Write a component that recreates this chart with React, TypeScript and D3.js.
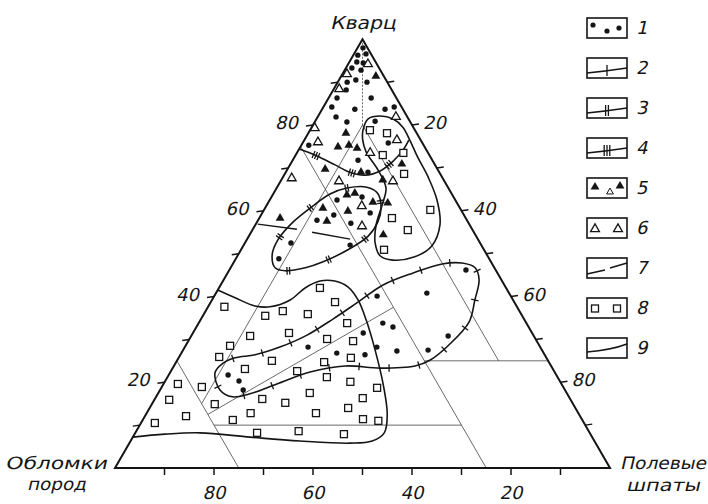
import React, { useEffect, useRef } from "react";
import * as d3 from "d3";

type TP = [number, number]; // [Q (кварц) %, F (полевые шпаты) %], R = 100 - Q - F

const tickValues = [10, 20, 30, 40, 50, 60, 70, 80, 90];
const leftLabels = [80, 60, 40, 20];
const rightLabels = [20, 40, 60, 80];
const baseLabels = [80, 60, 40, 20];
const legendLabels = ["1", "2", "3", "4", "5", "6", "7", "8", "9"];

const circlePts: TP[] = [
  [98, 1.1], [96.3, 0.9], [96.6, 2.4], [94.7, 1.5], [94.5, 2.9], [93.3, 1.2], [92.8, 3.3], [90, 1.9], [90.5, 3.4], [90, 5.9],
  [88.2, 2.6], [86.3, 1.7], [86.3, 8.6], [84.2, 1.7], [83.7, 6.6], [83.7, 12.7], [84.2, 14.3], [81.9, 3.7], [80.7, 6.5], [80.9, 12.1],
  [75.3, 1.5], [75.8, 17.3], [71.8, 13.2], [69, 16.6], [62.5, 13.6], [63.2, 18.3], [59.5, 21.8], [57.8, 11.9], [59, 14.7], [57.1, 19.1],
  [52.5, 9.3], [48.8, 8.7], [52, 21.5], [40.1, 32.9], [40.8, 42.6], [31.5, 34.4], [33.8, 37.2], [32.9, 39.7], [28.2, 24.9], [26.8, 31.4],
  [26.4, 37.3], [28.2, 38.8], [27.3, 43.3], [27.5, 49.5], [30.8, 51.9], [46.2, 47.8], [21.7, 12], [20.3, 14.9], [18.2, 16.8],
];

const filledTriPts: TP[] = [
  [91.4, 7], [78.1, 7.6], [74.9, 7.6], [75.3, 9.6], [74.6, 11.6], [69.7, 7.6], [69, 15.2], [70.9, 22.5], [67.2, 20.5],
  [63.7, 15], [64.1, 16.4], [62, 21.1], [61.8, 24.2], [60.6, 11.7], [59.9, 17.1], [57.6, 14], [58.3, 4.2], [54.4, 27],
];

const openTriPts: TP[] = [
  [94.2, 4], [91.9, 0.9], [88.4, 1.1], [79.3, 0.7], [76, 3], [81.9, 15.8], [76.5, 18.7], [73.5, 14.8], [67.6, 1.9],
  [66.9, 11.8], [66.9, 22.7], [61.1, 19.3], [56.4, 21.7],
];

const squarePts: TP[] = [
  [78.8, 12.1], [78.1, 15.9], [73, 17.6], [73.5, 21.5], [68.6, 24.1], [60.2, 33.6], [58.3, 26.8], [55.5, 31.4], [50.9, 28.9],
  [42, 20.4], [38.7, 25.1], [37.6, 3.3], [35.5, 12.6], [36.6, 15.6], [35.9, 21], [33.8, 30], [30.8, 11.9], [31.5, 19.4],
  [30.1, 27.8], [29.6, 33.3], [28.5, 9], [25.9, 8.1], [25, 19.2], [23.1, 14.7], [22.6, 25.5], [24.7, 29.9], [25.7, 34.8],
  [21.2, 32.2], [20.1, 37.5], [19.6, 2.9], [18.9, 8.1], [17.5, 30.6], [18.7, 43.6], [15.9, 3], [14.9, 12.7], [16.1, 21.7],
  [15.2, 26.8], [16.3, 41.9], [12.1, 8.3], [12.8, 21], [12.8, 34.2], [14, 40.1], [11.2, 18.2], [11.4, 44.4], [11, 47.7],
  [10.5, 2.8], [8.2, 24.6], [8.6, 32.8], [7.9, 42.3],
];

// classification lines (thin)
const classLines: TP[][] = [
  [[80, 10], [15, 10]],
  [[80, 10], [25, 65]],
  [[75, 0], [0, 75]],
  [[25, 0], [0, 25]],
  [[25, 50], [25, 75]],
  [[10, 15], [10, 65]],
  [[12.5, 12.5], [37.5, 37.5]],
];
const apexLine: TP[] = [[100, 0], [80, 10]];

// contours
const regionA: TP[] = [
  [41.5, 0], [39.7, 4.4], [37.8, 9.4], [37.6, 12.5], [39.2, 15.8], [42, 17.4], [43.6, 19.6], [43.6, 22.6], [42.2, 26],
  [39.2, 29.5], [34.5, 33.5], [27.5, 38.8], [19.4, 44.5], [12.4, 48.8], [8.2, 50.3], [6.3, 48.8], [5.8, 44.6],
  [6.3, 34.2], [7.2, 23.7], [8.2, 13.1], [7.9, 6.1], [7.2, 0],
];
const regionB: TP[] = [
  [22.2, 9.1], [24.3, 9.5], [25.7, 11.4], [26.4, 15.1], [28.2, 19.2], [31, 23.3], [34.8, 26.7], [38.5, 29.6], [42.7, 32.8],
  [45.5, 37.5], [47.6, 42.3], [47.8, 46.2], [46.7, 49.4], [43.9, 51.6], [39.2, 53.1], [34.1, 54.5], [28.7, 53.1],
  [25.2, 51.1], [23.8, 48.7], [23.3, 41.9], [23.8, 34.6], [22.4, 28.2], [19.6, 22.9], [17.3, 18.6], [16.6, 15.4], [18.2, 12.1],
];
const regionC: TP[] = [
  [46.7, 9], [49.7, 6.9], [53.2, 6.3], [57.4, 7.3], [61.1, 9.4], [63.9, 11.5], [65.3, 14.2], [65.5, 18.1], [64.1, 21],
  [60.9, 23.3], [57.4, 24.4], [54.1, 24.1], [50.9, 21.6], [48.1, 18], [46.7, 15.1], [46, 11.4],
];
const regionE: TP[] = [
  [74.4, 0], [72.8, 4.4], [70.7, 9.1], [69, 12.9], [68.3, 16.3], [69.3, 18.9], [71.6, 20.4], [74.2, 21.1], [76.5, 21.1],
];
const loopF: TP[] = [
  [78.8, 10.7], [81.4, 10.4], [82.1, 12.5], [81.4, 15.5], [79.5, 18.4], [76.5, 21.3], [72.5, 24.9], [67.9, 29.3],
  [62.5, 33.8], [56.7, 37.3], [51.8, 38.1], [49.2, 35.8], [48.5, 31.9], [49.5, 28.8], [52.5, 26.3], [56.7, 24.4],
  [61.3, 23.3], [65.3, 22.1], [69.5, 18.4], [73.7, 13.9], [76.5, 11.8],
];
const dashed7: TP[][] = [
  [[56.9, 0.4], [55.7, 8.9]],
  [[55, 12.3], [53.4, 20.8]],
];

const INK = "#151515";
const FONT = "'DejaVu Sans', sans-serif";

export default function App() {
  const ref = useRef<SVGSVGElement>(null);

  useEffect(() => {
    const svg = d3.select(ref.current as SVGSVGElement);
    svg.selectAll("*").remove();
    const xs = d3.scaleLinear().domain([0, 100]).range([115, 610]);
    const ys = d3.scaleLinear().domain([0, 100]).range([468, 39.3]);
    const P = (d: TP): [number, number] => [xs(d[1] + d[0] / 2), ys(d[0])];

    svg.append("rect").attr("width", 708).attr("height", 504).attr("fill", "#fff");
    const g = svg.append("g");

    // thin classification lines
    const lineGen = d3.line<TP>().x((d) => P(d)[0]).y((d) => P(d)[1]);
    g.selectAll(".cl").data(classLines).enter().append("path")
      .attr("d", (d) => lineGen(d) as string)
      .attr("fill", "none").attr("stroke", "#444").attr("stroke-width", 0.8);
    g.append("path").attr("d", lineGen(apexLine) as string)
      .attr("fill", "none").attr("stroke", "#444").attr("stroke-width", 0.8).attr("stroke-dasharray", "2,1.5");

    // triangle frame
    const frame: TP[] = [[100, 0], [0, 100], [0, 0]];
    g.append("path").attr("d", (lineGen(frame) as string) + "Z")
      .attr("fill", "none").attr("stroke", INK).attr("stroke-width", 2).attr("stroke-linejoin", "miter");

    // side ticks
    tickValues.forEach((v) => {
      const [lx, ly] = P([v, 0]);
      g.append("line").attr("x1", lx).attr("y1", ly).attr("x2", lx - 7).attr("y2", ly + 1)
        .attr("stroke", INK).attr("stroke-width", 1.5);
      const [rx, ry] = P([100 - v, v]);
      g.append("line").attr("x1", rx).attr("y1", ry).attr("x2", rx + 7).attr("y2", ry - 1)
        .attr("stroke", INK).attr("stroke-width", 1.5);
      const [bx, by] = P([0, 100 - v]);
      g.append("line").attr("x1", bx).attr("y1", by).attr("x2", bx).attr("y2", by + 7)
        .attr("stroke", INK).attr("stroke-width", 1.5);
    });

    const txt = (x: number, y: number, s: string, anchor = "start", size = 17, len?: number) => {
      const t = g.append("g").attr("transform", `translate(${x},${y}) skewX(-13)`)
        .append("text").attr("x", 0).attr("y", 0).attr("text-anchor", anchor)
        .attr("font-family", FONT).attr("font-size", size)
        .attr("fill", INK).text(s);
      if (len) t.attr("textLength", len).attr("lengthAdjust", "spacingAndGlyphs");
      return t;
    };

    leftLabels.forEach((v) => { const [x, y] = P([v, 0]); txt(x - 15, y + 4, String(v), "end", 18); });
    rightLabels.forEach((v) => { const [x, y] = P([100 - v, v]); txt(x + 11, y + 4, String(v), "start", 18); });
    baseLabels.forEach((v) => { const [x, y] = P([0, 100 - v]); txt(x, y + 31, String(v), "middle", 18); });

    txt(330, 29, "Кварц", "start", 18, 66);
    txt(5, 469, "Обломки", "start", 17, 102);
    txt(27, 490, "пород", "start", 17, 59);
    txt(620, 469, "Полевые", "start", 17, 86);
    txt(626, 491, "шпаты", "start", 17, 74);

    // contours
    const openCurve = d3.line<TP>().x((d) => P(d)[0]).y((d) => P(d)[1]).curve(d3.curveCatmullRom.alpha(0.5));
    const closedCurve = d3.line<TP>().x((d) => P(d)[0]).y((d) => P(d)[1]).curve(d3.curveCatmullRomClosed.alpha(0.5));

    const addContour = (d: string) =>
      g.append("path").attr("d", d).attr("fill", "none").attr("stroke", INK).attr("stroke-width", 1.6);

    const addTicks = (node: SVGPathElement, n: number, spacing: number, start: number) => {
      const L = node.getTotalLength();
      for (let s = start; s < L - 4; s += spacing) {
        const p = node.getPointAtLength(s);
        const a = node.getPointAtLength(Math.max(0, s - 1.5));
        const b = node.getPointAtLength(Math.min(L, s + 1.5));
        let tx = b.x - a.x, ty = b.y - a.y;
        const m = Math.hypot(tx, ty) || 1; tx /= m; ty /= m;
        const nx = -ty, ny = tx;
        for (let k = 0; k < n; k++) {
          const off = (k - (n - 1) / 2) * 2.6;
          const cx = p.x + tx * off, cy = p.y + ty * off;
          g.append("line").attr("x1", cx - nx * 3.8).attr("y1", cy - ny * 3.8)
            .attr("x2", cx + nx * 3.8).attr("y2", cy + ny * 3.8)
            .attr("stroke", INK).attr("stroke-width", 1.3);
        }
      }
    };

    addContour(openCurve(regionA) as string);
    const pB = addContour(closedCurve(regionB) as string);
    addTicks(pB.node() as SVGPathElement, 1, 30, 12);
    const pC = addContour(closedCurve(regionC) as string);
    addTicks(pC.node() as SVGPathElement, 2, 42, 20);
    addContour(closedCurve(loopF) as string);
    const pE = addContour(openCurve(regionE) as string);
    addTicks(pE.node() as SVGPathElement, 3, 40, 18);
    dashed7.forEach((seg) => addContour(lineGen(seg) as string).attr("stroke-width", 1.4));

    // markers
    g.selectAll(".c").data(circlePts).enter().append("circle")
      .attr("cx", (d) => P(d)[0]).attr("cy", (d) => P(d)[1]).attr("r", 2.7).attr("fill", INK);
    const tri = d3.symbol().type(d3.symbolTriangle).size(34);
    g.selectAll(".ft").data(filledTriPts).enter().append("path")
      .attr("d", tri() as string).attr("transform", (d) => `translate(${P(d)[0]},${P(d)[1]})`).attr("fill", INK);
    g.selectAll(".ot").data(openTriPts).enter().append("path")
      .attr("d", tri() as string).attr("transform", (d) => `translate(${P(d)[0]},${P(d)[1]})`)
      .attr("fill", "#fff").attr("stroke", INK).attr("stroke-width", 1.3);
    g.selectAll(".sq").data(squarePts).enter().append("rect")
      .attr("x", (d) => P(d)[0] - 3.5).attr("y", (d) => P(d)[1] - 3.5).attr("width", 7).attr("height", 7)
      .attr("fill", "#fff").attr("stroke", INK).attr("stroke-width", 1.3);

    // legend
    const lg = svg.append("g");
    legendLabels.forEach((lab, i) => {
      const y = 18 + i * 40;
      const x = 587;
      lg.append("rect").attr("x", x).attr("y", y).attr("width", 40).attr("height", 20)
        .attr("fill", "#fff").attr("stroke", INK).attr("stroke-width", 1.6);
      lg.append("g").attr("transform", `translate(636,${y + 16}) skewX(-13)`)
        .append("text").attr("font-family", FONT)
        .attr("font-size", 18).attr("fill", INK).text(lab);
      if (i === 0) {
        [[593, 7], [607, 13], [619, 10]].forEach(([cx, dy]) =>
          lg.append("circle").attr("cx", cx).attr("cy", y + dy).attr("r", 2.6).attr("fill", INK));
      } else if (i >= 1 && i <= 3) {
        lg.append("path").attr("d", `M${x},${y + 15} Q${x + 20},${y + 13} ${x + 40},${y + 10}`)
          .attr("fill", "none").attr("stroke", INK).attr("stroke-width", 1.5);
        for (let k = 0; k < i; k++) {
          const tx = 607 + (k - (i - 1) / 2) * 2.8;
          lg.append("line").attr("x1", tx).attr("y1", y + 7).attr("x2", tx).attr("y2", y + 18)
            .attr("stroke", INK).attr("stroke-width", 1.3);
        }
      } else if (i === 4) {
        [[595, 9, 34], [610, 14, 20], [620, 8, 34]].forEach(([cx, dy, sz]) =>
          lg.append("path").attr("d", d3.symbol().type(d3.symbolTriangle).size(sz)() as string)
            .attr("transform", `translate(${cx},${y + dy})`)
            .attr("fill", sz === 20 ? "#fff" : INK).attr("stroke", INK).attr("stroke-width", sz === 20 ? 1 : 0));
      } else if (i === 5) {
        [595, 618].forEach((cx) =>
          lg.append("path").attr("d", tri() as string).attr("transform", `translate(${cx},${y + 11})`)
            .attr("fill", "#fff").attr("stroke", INK).attr("stroke-width", 1.3));
      } else if (i === 6) {
        lg.append("line").attr("x1", x).attr("y1", y + 16).attr("x2", x + 18).attr("y2", y + 12)
          .attr("stroke", INK).attr("stroke-width", 1.5);
        lg.append("line").attr("x1", x + 23).attr("y1", y + 10).attr("x2", x + 40).attr("y2", y + 5)
          .attr("stroke", INK).attr("stroke-width", 1.5);
      } else if (i === 7) {
        [595, 617].forEach((cx) =>
          lg.append("rect").attr("x", cx - 3.5).attr("y", y + 7).attr("width", 7).attr("height", 7)
            .attr("fill", "#fff").attr("stroke", INK).attr("stroke-width", 1.3));
      } else if (i === 8) {
        lg.append("path").attr("d", `M${x},${y + 14} Q${x + 24},${y + 12} ${x + 40},${y + 6}`)
          .attr("fill", "none").attr("stroke", INK).attr("stroke-width", 1.5);
      }
    });
  }, []);

  return (
    <svg ref={ref} width={708} height={504}
      style={{ display: "block", position: "absolute", left: 0, top: 0 }} />
  );
}
